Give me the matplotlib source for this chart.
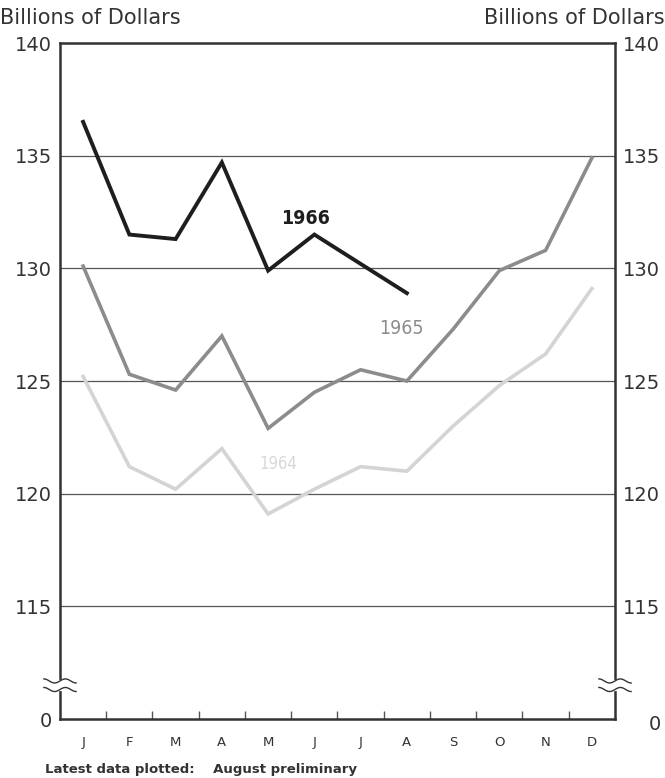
import numpy as np
import matplotlib
matplotlib.use("Agg")
import matplotlib.pyplot as plt

# monthly values, billions of dollars
months = ["J", "F", "M", "A", "M", "J", "J", "A", "S", "O", "N", "D"]
y1964 = [125.2, 121.2, 120.2, 122.0, 119.1, 120.2, 121.2, 121.0, 123.0, 124.8, 126.2, 129.1]
y1965 = [130.1, 125.3, 124.6, 127.0, 122.9, 124.5, 125.5, 125.0, 127.3, 129.9, 130.8, 134.9]
y1966 = [136.5, 131.5, 131.3, 134.7, 129.9, 131.5, 130.2, 128.9]

yticks = [115, 120, 125, 130, 135, 140]
zero_pos = 110.0   # where "0" sits below the break
break_pos = 111.5

plt.rcParams["font.family"] = "DejaVu Sans"

fig = plt.figure(figsize=(6.65, 7.78), dpi=100)
ax = fig.add_axes([0.0902, 0.0758, 0.8346, 0.8689])

x = np.arange(len(months)) + 0.5
ax.plot(x, y1964, color="#d4d4d4", lw=2.6, solid_joinstyle="miter", zorder=3)
ax.plot(x, y1965, color="#8c8c8c", lw=2.6, solid_joinstyle="miter", zorder=4)
ax.plot(x[:len(y1966)], y1966, color="#1e1e1e", lw=2.8, solid_joinstyle="miter", zorder=5)

ax.text(5.30, 132.2, "1966", fontsize=14, fontweight="bold", fontstretch="condensed",
        color="#1e1e1e", ha="center", va="center")
ax.text(7.39, 127.35, "1965", fontsize=14, fontstretch="condensed", color="#8c8c8c",
        ha="center", va="center")
ax.text(4.71, 121.3, "1964", fontsize=12, fontstretch="condensed", color="#d8d8d8",
        ha="center", va="center")

ax.set_xlim(0, 12)
ax.set_ylim(zero_pos, 140)

for v in yticks[:-1]:
    ax.axhline(v, color="#555555", lw=0.9, zorder=1)

for s in ["left", "right", "bottom", "top"]:
    ax.spines[s].set_linewidth(1.8)
    ax.spines[s].set_color("#333333")

# y labels on both sides
ax.set_yticks([zero_pos] + yticks)
ax.set_yticklabels(["0"] + [str(v) for v in yticks])
ax.tick_params(axis="y", length=0, labelsize=14, labelcolor="#333333", pad=6,
               left=False, right=False, labelleft=True, labelright=True)
ax.yaxis.get_major_ticks()[0].label2.set_visible(False)
ax.text(1.06, zero_pos - 0.25, "0", transform=ax.get_yaxis_transform(), fontsize=14,
        color="#333333", ha="left", va="center")

# month ticks between labels, pointing up
ax.set_xticks(np.arange(1, 12))
ax.set_xticklabels([])
ax.tick_params(axis="x", direction="in", length=6, width=1, color="#555555", bottom=True)
for xi, m in zip(x, months):
    ax.text(xi, -0.034, m, transform=ax.get_xaxis_transform(), ha="center", va="center",
            fontsize=9.5, color="#333333")

# axis break marks
t = np.linspace(-0.029, 0.029, 40)
for side in [0, 1]:
    ax.plot([side, side], [break_pos - 0.15, break_pos + 0.15], transform=ax.get_yaxis_transform(),
            color="white", lw=3, clip_on=False, zorder=5)
    for off in [0.19, -0.19]:
        ax.plot(side + t, break_pos + off + 0.09 * np.sin(t / 0.029 * np.pi * 1.5),
                transform=ax.get_yaxis_transform(), color="#333333", lw=1.0,
                clip_on=False, zorder=6)

fig.text(0.0, 0.977, "Billions of Dollars", fontsize=15, color="#333333", ha="left", va="center")
fig.text(1.0, 0.977, "Billions of Dollars", fontsize=15, color="#333333", ha="right", va="center")
fig.text(0.068, 0.0103, "Latest data plotted:    August preliminary", fontsize=9.5,
         fontweight="bold", color="#333333", ha="left", va="center")

fig.savefig("out.png", dpi=100, facecolor="white")
